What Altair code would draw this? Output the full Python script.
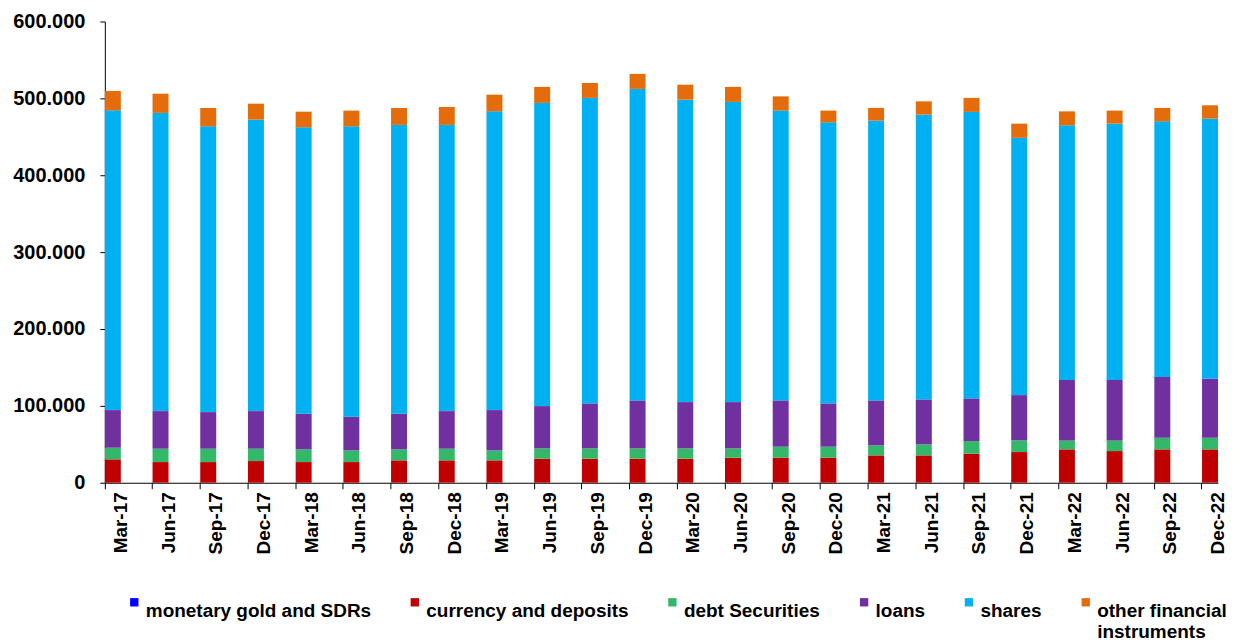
import altair as alt
import pandas as pd

quarters = ["Mar-17", "Jun-17", "Sep-17", "Dec-17", "Mar-18", "Jun-18", "Sep-18", "Dec-18",
            "Mar-19", "Jun-19", "Sep-19", "Dec-19", "Mar-20", "Jun-20", "Sep-20", "Dec-20",
            "Mar-21", "Jun-21", "Sep-21", "Dec-21", "Mar-22", "Jun-22", "Sep-22", "Dec-22"]

monetary_gold = [0.1] * 24
currency_deposits = [30.3, 26.8, 26.8, 28.1, 26.8, 26.8, 29.0, 29.0, 29.0, 31.2, 31.2, 31.2,
                     31.2, 32.5, 32.5, 32.5, 35.5, 35.5, 37.7, 39.8, 43.3, 41.1, 43.3, 43.3]
debt_securities = [15.2, 17.4, 17.4, 16.1, 16.5, 15.2, 14.3, 15.2, 13.0, 13.4, 13.4, 13.4,
                   13.4, 12.1, 14.3, 14.3, 13.0, 14.3, 16.4, 15.2, 11.7, 13.9, 15.2, 15.2]
loans = [48.9, 48.9, 47.6, 48.9, 46.4, 43.8, 46.4, 48.9, 52.4, 55.0, 58.5, 62.4,
         60.2, 60.2, 60.2, 56.3, 58.5, 58.5, 55.5, 58.9, 78.4, 78.4, 78.8, 76.7]
shares = [389.9, 387.9, 371.7, 379.1, 372.5, 377.7, 375.7, 372.3, 388.6, 394.4, 397.4, 405.2,
          393.4, 390.5, 377.0, 365.6, 364.0, 370.4, 372.7, 334.6, 331.4, 333.6, 332.7, 338.3]
other_instruments = [25.2, 25.0, 23.9, 20.8, 20.4, 20.5, 22.0, 23.3, 21.7, 20.8, 19.4, 19.5,
                     19.5, 19.5, 18.5, 15.3, 16.5, 17.3, 18.2, 18.5, 18.2, 17.0, 17.5, 17.4]

series_names = ["monetary gold and SDRs", "currency and deposits", "debt Securities",
                "loans", "shares", "other financial instruments"]
series_colors = ["#0000FF", "#C00000", "#33B86A", "#7030A0", "#00B0F0", "#E46C0A"]
series_values = [monetary_gold, currency_deposits, debt_securities, loans, shares, other_instruments]

rows = []
for k, (name, vals) in enumerate(zip(series_names, series_values)):
    for q, v in zip(quarters, vals):
        rows.append({"quarter": q, "series": name, "value": v, "order": k})
df = pd.DataFrame(rows)

FONT = "Liberation Sans"

chart = alt.Chart(df).mark_bar().encode(
    x=alt.X("quarter:N", sort=quarters, title=None,
            scale=alt.Scale(paddingInner=0.665, paddingOuter=0),
            axis=alt.Axis(labelAngle=-90, bandPosition=0, labelOffset=8,
                          labelFont=FONT, labelFontSize=19, labelFontWeight="bold",
                          labelColor="black", domainColor="black", tickColor="black",
                          tickSize=6, labelPadding=3)),
    y=alt.Y("value:Q", stack="zero", title=None,
            scale=alt.Scale(domain=[0, 600], nice=False),
            axis=alt.Axis(values=[0, 100, 200, 300, 400, 500, 600], grid=False,
                          labelExpr="datum.value == 0 ? '0' : format(datum.value, '.3f')",
                          labelFont=FONT, labelFontSize=20, labelFontWeight="bold",
                          labelColor="black", domainColor="black", tickColor="black",
                          tickSize=5, labelPadding=15, minExtent=88, maxExtent=88)),
    color=alt.Color("series:N", title=None,
                    scale=alt.Scale(domain=series_names, range=series_colors),
                    legend=alt.Legend(orient="none", direction="horizontal", columns=6,
                                      legendX=20, legendY=572,
                                      symbolType="square", symbolSize=70,
                                      symbolStrokeWidth=0, columnPadding=34,
                                      labelFont=FONT, labelFontSize=19,
                                      labelFontWeight="bold", labelColor="black",
                                      labelLimit=300, labelBaseline="top", labelOffset=2,
                                      labelExpr="datum.label == 'other financial instruments' ? ['other financial', 'instruments'] : [datum.label, ' ']")),
    order=alt.Order("order:Q", sort="ascending"),
).properties(
    width=1115, height=462,
    padding={"left": 4, "top": 3, "right": 0, "bottom": 0},
).configure_view(stroke=None)

chart.save("out.html", embed_options={"renderer": "svg", "actions": False})
